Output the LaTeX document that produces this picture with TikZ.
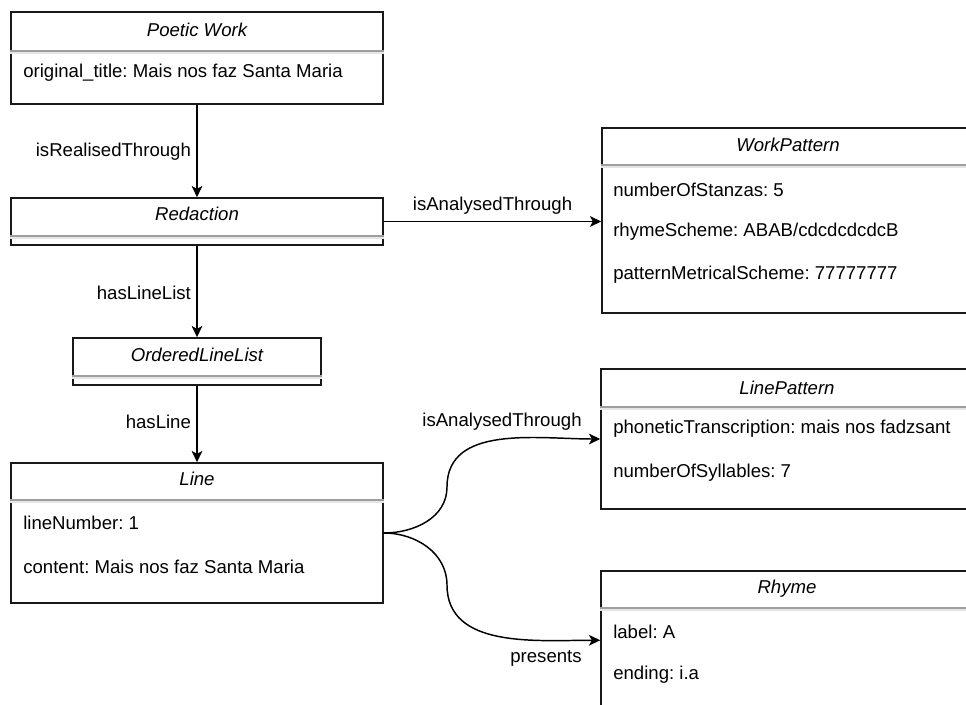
\documentclass[tikz,border=0pt]{standalone}
\usepackage{fontspec}
\setmainfont{Liberation Sans}
\usetikzlibrary{arrows.meta}
\frenchspacing
\begin{document}
\begin{tikzpicture}[x=0.75pt,y=-0.75pt,
  every node/.style={font=\fontsize{13.95}{16}\selectfont, inner sep=0pt, text=black},
  cls/.style 2 args={draw=black!90, line width=1.1pt, fill=white,
    minimum width={#1*0.75pt}, minimum height={#2*0.75pt}},
  ttl/.style={font=\fontsize{13.95}{16}\selectfont\itshape},
  attr/.style={anchor=west},
  divider/.style={draw=black!38, line width=0.8pt},
  faint/.style={draw=black!10, line width=0.8pt},
  conn/.style={draw=black, line width=1.1pt, -{Stealth[length=8.5pt,width=8pt,inset=2.2pt]}},
  lbl/.style={anchor=east}
]
\useasboundingbox (0,0) rectangle (966,705);
\clip (0,0) rectangle (966,705);

% class boxes
\node[cls={372}{92}]  (pw)   at (197,58)    {};
\node[cls={372}{47}]  (red)  at (197,221.5) {};
\node[cls={248}{47}]  (oll)  at (197,361.5) {};
\node[cls={372}{140}] (line) at (197,533)   {};
\node[cls={372}{185}] (wp)   at (788,220.5) {};
\node[cls={372}{140}] (lp)   at (787,439)   {};
\node[cls={372}{180}] (rh)   at (787,661)   {};

% header separators
\foreach \b/\y in {pw/51, red/236, oll/376, line/500, wp/165, lp/407, rh/608}{
  \draw[divider] (\b.west |- 0,\y) -- (\b.east |- 0,\y);
  \draw[faint] (\b.west |- 0,\y+2) -- (\b.east |- 0,\y+2);
}

% titles
\node[ttl] (pwT)   at (197,30)  {Poetic Work};
\node[ttl] (redT)  at (197,214) {Redaction};
\node[ttl] (ollT)  at (197,355) {OrderedLineList};
\node[ttl] (lineT) at (197,479) {Line};
\node[ttl] (wpT)   at (788,145) {WorkPattern};
\node[ttl] (lpT)   at (787,388) {LinePattern};
\node[ttl] (rhT)   at (787,589) {Rhyme};

% attributes
\node[attr] (pwA1)   at (23,73)   {original\_title: Mais nos faz Santa Maria};
\node[attr] (lineA1) at (23,523)  {lineNumber: 1};
\node[attr] (lineA2) at (23,567)  {content: Mais nos faz Santa Maria};
\node[attr] (wpA1)   at (613,190) {numberOfStanzas: 5};
\node[attr] (wpA2)   at (613,232) {rhymeScheme: ABAB/cdcdcdcdcB};
\node[attr] (wpA3)   at (613,275) {patternMetricalScheme: 77777777};
\node[attr] (lpA1)   at (613,429) {phoneticTranscription: mais nos fadzsant};
\node[attr] (lpA2)   at (613,473) {numberOfSyllables: 7};
\node[attr] (rhA1)   at (613,632) {label: A};
\node[attr] (rhA2)   at (613,675) {ending: i.a};

% relations
\draw[conn] (pw.south) -- node[lbl, pos=0.51, xshift=-4pt] {isRealisedThrough} (red.north);
\draw[conn] (red.south) -- node[lbl, pos=0.516, xshift=-4pt] {hasLineList} (oll.north);
\draw[conn] (oll.south) -- node[lbl, pos=0.474, xshift=-4pt] {hasLine} (line.north);
\draw[conn] (red.east) -- node[above, yshift=5pt] {isAnalysedThrough} (red.east -| wp.west);

\coordinate (bendup) at (447,487);
\coordinate (benddn) at (447,585);
\coordinate (rhin) at ([yshift=-52.5pt]rh.north west);
\draw[conn] (line.east) to[out=0,in=-90] (bendup) to[out=90,in=180] (lp.west);
\draw[conn] (line.east) to[out=0,in=90] (benddn) to[out=-90,in=180] (rhin);
\node (lbl4) at (502,422) {isAnalysedThrough};
\node (lbl5) at (546,658) {presents};
\end{tikzpicture}
\end{document}
